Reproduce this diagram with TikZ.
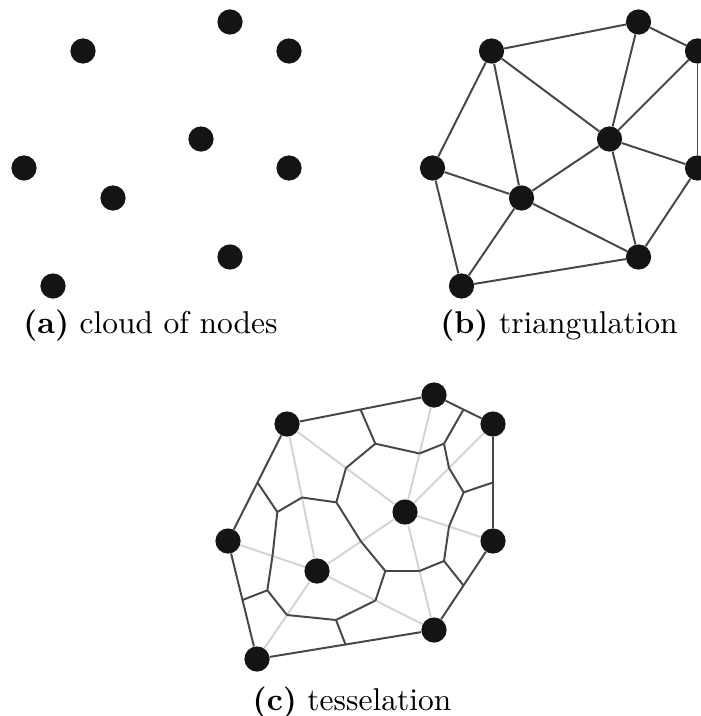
\documentclass[tikz,border=0pt]{standalone}
\usepackage{xcolor}
\usepackage{tikz}
\usetikzlibrary{calc}
\def\cloud{1/230/22,2/83/51,3/289/51,4/201/139,5/24/168,6/289/168,7/113/198,8/230/257,9/53/286}
\def\triedges{1/2,1/3,1/4,3/4,3/6,2/4,2/7,2/5,5/7,5/9,7/9,4/7,7/8,4/8,4/6,6/8,8/9}
\def\hulledges{1/2,1/3,3/6,6/8,8/9,5/9,2/5}
\def\inneredges{1/4,3/4,2/4,2/7,5/7,7/9,4/7,7/8,4/8,4/6}
\def\faces{1/2/4,1/3/4,3/4/6,4/6/8,4/7/8,2/4/7,2/5/7,5/7/9,7/8/9}

\begin{document}
\begin{tikzpicture}[x=0.025cm,y=-0.025cm]
    \tikzstyle{vertex}=[circle,fill=black!92,minimum size=0.63cm,inner sep=0pt]
    \tikzstyle{edge}=[draw=black!72,line width=1.4pt]
    \tikzstyle{dual}=[draw=black!17,line width=1.4pt]
    \tikzstyle{caption}=[font=\normalsize,scale=2.24,inner sep=0pt]

    \useasboundingbox[fill=white] (0,0) rectangle (700,716);

    % Draw the cloud of nodes
    \foreach \name / \x / \y in \cloud
        \node[vertex] (A-\name) at (\x,\y) {};

    % Draw the triangulation nodes and connect them
    \begin{scope}[shift={(408.5,0)}]
    \foreach \name / \x / \y in \cloud
        \node[vertex] (B-\name) at (\x,\y) {};
    \end{scope}
    \foreach \source / \dest in \triedges
        \path[edge] (B-\source) -- (B-\dest);

    % Draw the tesselation nodes
    \begin{scope}[shift={(204,373)}]
    \foreach \name / \x / \y in \cloud
        \node[vertex] (C-\name) at (\x,\y) {};
    \end{scope}

    % Inner edges of the triangulation in light grey, the hull in dark
    \foreach \source / \dest in \inneredges
        \path[dual] (C-\source) -- (C-\dest);
    \foreach \source / \dest in \hulledges
        \path[edge] (C-\source) -- (C-\dest);

    % Midpoints of the edges and centroids of the triangles
    \foreach \source / \dest in \triedges
        \coordinate (M-\source-\dest) at ($(C-\source)!0.5!(C-\dest)$);
    \foreach \a / \b / \c in \faces {
        \coordinate (G-\a\b\c) at (barycentric cs:C-\a=1,C-\b=1,C-\c=1);
        \path[edge] (M-\a-\b) -- (G-\a\b\c) -- (M-\b-\c)
            (G-\a\b\c) -- (M-\a-\c);
    }

    % Annotate the panels
    \node[caption] (cap-a) at (150.5,326) {\textbf{(a)} cloud of nodes};
    \node[caption] (cap-b) at (559,326) {\textbf{(b)} triangulation};
    \node[caption] (cap-c) at (352,702.5) {\textbf{(c)} tesselation};
\end{tikzpicture}
\end{document}
